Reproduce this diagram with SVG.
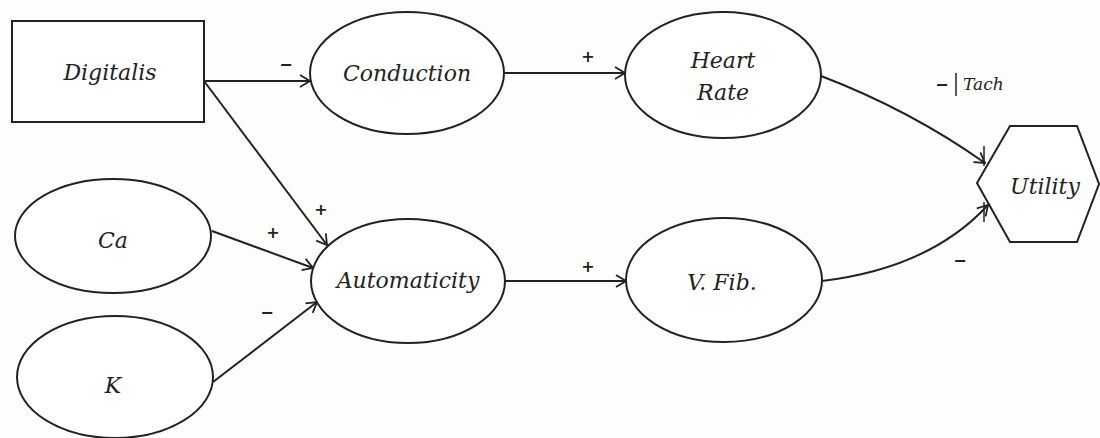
<svg xmlns="http://www.w3.org/2000/svg" width="1100" height="438" viewBox="0 0 1100 438">
<defs>
<style>
.shape{fill:#ffffff;stroke:#222;stroke-width:2}
.lbl{font-family:"DejaVu Serif",serif;font-style:italic;font-size:22px;fill:#222;text-anchor:middle}
.sign{font-family:"DejaVu Sans",sans-serif;font-size:16px;font-weight:bold;fill:#222;text-anchor:middle}
.tach{font-family:"DejaVu Serif",serif;font-style:italic;font-size:17px;fill:#222}
.edge{fill:none;stroke:#222;stroke-width:2}
.tick{stroke:#222;stroke-width:1.5}
</style>
<marker id="arr" markerWidth="12" markerHeight="14" refX="11" refY="7" orient="auto" markerUnits="userSpaceOnUse">
<path d="M1,1 L11,7 L1,13" fill="none" stroke="#222" stroke-width="1.8"/>
</marker>
</defs>
<rect width="1100" height="438" fill="#fdfdfb"/>
<g id="connectors">
<line class="edge" x1="204" y1="81" x2="310" y2="81" marker-end="url(#arr)"/>
<line class="edge" x1="204" y1="81" x2="327" y2="245" marker-end="url(#arr)"/>
<line class="edge" x1="212" y1="231" x2="313" y2="268" marker-end="url(#arr)"/>
<line class="edge" x1="213" y1="382" x2="317" y2="302" marker-end="url(#arr)"/>
<line class="edge" x1="504" y1="73" x2="625" y2="73" marker-end="url(#arr)"/>
<line class="edge" x1="505" y1="281" x2="626" y2="281" marker-end="url(#arr)"/>
<path class="edge" d="M821,76 Q910,110 985,163" marker-end="url(#arr)"/>
<path class="edge" d="M822,281 Q930,268 988,205" marker-end="url(#arr)"/>
<line class="tick" x1="984" y1="146" x2="984" y2="166"/>
<line class="tick" x1="984" y1="202" x2="984" y2="222"/>
<text class="sign" x="286" y="70">−</text>
<text class="sign" x="321" y="215">+</text>
<text class="sign" x="273" y="238">+</text>
<text class="sign" x="267" y="318">−</text>
<text class="sign" x="588" y="62">+</text>
<text class="sign" x="588" y="272">+</text>
<text class="sign" x="960" y="266">−</text>
<text class="sign" x="942" y="90">−</text>
<line class="tick" x1="956" y1="73" x2="956" y2="96"/>
<text class="tach" x="963" y="90">Tach</text>
</g>
<g id="digitalis">
<rect class="shape" x="12" y="21" width="192" height="101"/>
<text class="lbl" x="110" y="80">Digitalis</text>
</g>
<g id="conduction">
<ellipse class="shape" cx="407" cy="73" rx="97" ry="61"/>
<text class="lbl" x="407" y="81">Conduction</text>
</g>
<g id="heartrate">
<ellipse class="shape" cx="723" cy="75" rx="98" ry="63"/>
<text class="lbl" x="723" y="68">Heart</text>
<text class="lbl" x="723" y="100">Rate</text>
</g>
<g id="ca">
<ellipse class="shape" cx="113" cy="236" rx="98" ry="57"/>
<text class="lbl" x="113" y="248">Ca</text>
</g>
<g id="k">
<ellipse class="shape" cx="115" cy="377" rx="98" ry="61"/>
<text class="lbl" x="113" y="393">K</text>
</g>
<g id="automaticity">
<ellipse class="shape" cx="408" cy="281" rx="97" ry="62"/>
<text class="lbl" x="408" y="288">Automaticity</text>
</g>
<g id="vfib">
<ellipse class="shape" cx="724" cy="280" rx="98" ry="62"/>
<text class="lbl" x="722" y="290">V. Fib.</text>
</g>
<g id="utility">
<polygon class="shape" points="1010,126 1077,126 1099,184 1077,242 1010,242 977,183"/>
<text class="lbl" x="1045" y="194">Utility</text>
</g>
</svg>
